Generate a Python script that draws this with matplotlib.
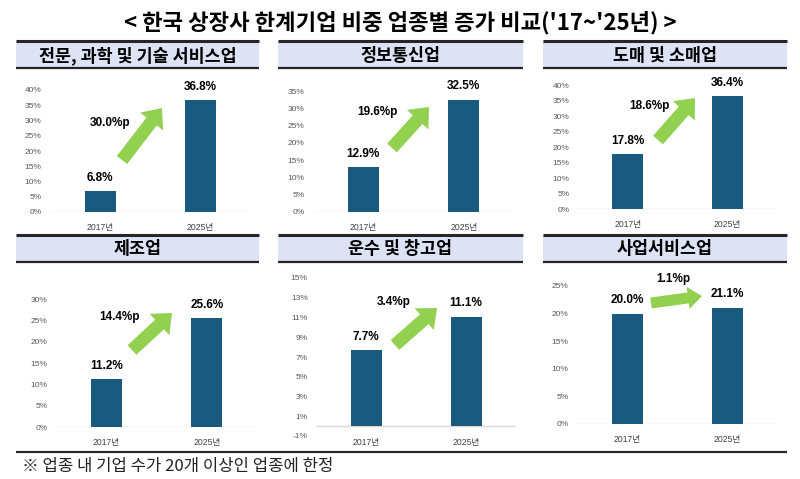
import matplotlib
matplotlib.use("Agg")
import matplotlib.pyplot as plt
from matplotlib.patches import Rectangle, FancyArrow
import numpy as np

plt.rcParams['font.family'] = ['Liberation Sans', 'Noto Sans CJK KR', 'DejaVu Sans']

# data
title = "< 한국 상장사 한계기업 비중 업종별 증가 비교('17~'25년) >"
panels = ["전문, 과학 및 기술 서비스업", "정보통신업", "도매 및 소매업",
          "제조업", "운수 및 창고업", "사업서비스업"]
years = ["2017년", "2025년"]
share_2017 = [6.8, 12.9, 17.8, 11.2, 7.7, 20.0]
share_2025 = [36.8, 32.5, 36.4, 25.6, 11.1, 21.1]
y_min = [0, 0, 0, 0, -1, 0]
y_max = [40, 35, 40, 30, 15, 25]
y_step = [5, 5, 5, 5, 2, 5]
footnote = "※ 업종 내 기업 수가 20개 이상인 업종에 한정"

# layout (pixels)
W, H = 800, 479
ax_boxes = [(50, 90, 250, 212), (313, 91, 514, 212), (578, 85, 777, 209),
            (56, 299, 257, 427), (316, 278, 516, 436), (577, 286, 777, 424)]
head_x = [(16, 259), (278, 523), (543, 787)]
head_y = [(41, 68), (235, 262)]
arrows = [((122, 160), (162, 108)), ((392, 148), (429, 107)), ((658, 140), (695, 98)),
          ((132, 350), (172, 313)), ((395, 345), (437, 308)), ((651, 303), (702, 296))]
arrow_sz = [(13, 29, 17)] * 5 + [(11, 22, 14)]
arrow_lbl = [(110, 123), (377, 112), (649, 106), (119, 317), (394, 302), (673, 279)]

bar_color = "#195a7e"
green = "#92d050"
head_fill = "#dde3f5"
kr = ['Noto Sans CJK KR', 'DejaVu Sans']

fig = plt.figure(figsize=(W / 100, H / 100), dpi=100)

ov = fig.add_axes([0, 0, 1, 1])
ov.set_xlim(0, W)
ov.set_ylim(H, 0)
ov.axis('off')

ov.text(W / 2, 23, title, ha='center', va='center', fontsize=16,
        fontweight='bold', family=kr)

# header boxes
for r, (yt, yb) in enumerate(head_y):
    for c, (xl, xr) in enumerate(head_x):
        ov.add_patch(Rectangle((xl, yt), xr - xl, yb - yt, facecolor=head_fill,
                               edgecolor='none', zorder=1))
        ov.plot([xl, xr], [yt, yt], color='#262626', lw=2.2, solid_capstyle='butt', zorder=2)
        ov.plot([xl, xr], [yb, yb], color='#262626', lw=1.6, solid_capstyle='butt', zorder=2)
        ov.text((xl + xr) / 2, (yt + yb) / 2 + 1, panels[r * 3 + c], ha='center', va='center',
                fontsize=12.5, fontweight='bold', family=kr, zorder=3)

ov.plot([16, 787], [452, 452], color='#262626', lw=1.6, solid_capstyle='butt')
ov.text(22, 466, footnote, ha='left', va='center', fontsize=12,
        family=kr, color='#222222')

x = np.arange(2)
for i in range(6):
    l, t, r, b = ax_boxes[i]
    ax = fig.add_axes([l / W, 1 - b / H, (r - l) / W, (b - t) / H])
    ax.set_facecolor('none')
    vals = [share_2017[i], share_2025[i]]
    ax.bar(x, vals, width=0.31, color=bar_color, zorder=3)
    ax.set_xlim(-0.5, 1.5)
    ax.set_ylim(y_min[i], y_max[i])
    ticks = np.arange(y_min[i], y_max[i] + 0.1, y_step[i])
    ax.set_yticks(ticks)
    ax.set_yticklabels([f"{v:g}%" for v in ticks])
    ax.tick_params(axis='y', length=0, pad=6, labelsize=6, labelcolor='#595959')
    ax.set_xticks([])
    for s in ax.spines.values():
        s.set_visible(False)
    ax.axhline(0, color='#d9d9d9', lw=1, zorder=2)
    for xi, v in zip(x, vals):
        ax.annotate(f"{v:.1f}%", (xi, v), xytext=(0, 9.5), textcoords='offset points',
                    ha='center', va='center', fontsize=8.5, fontweight='bold')
        ax.annotate(years[xi], (xi, 0), xytext=(0, -11.5), textcoords='offset points',
                    ha='center', va='center', fontsize=6.2, color='#404040')
    (x0, y0), (x1, y1) = arrows[i]
    w, hw, hl = arrow_sz[i]
    ov.add_patch(FancyArrow(x0, y0, x1 - x0, y1 - y0, width=w, head_width=hw,
                            head_length=hl, length_includes_head=True,
                            facecolor=green, edgecolor='none', zorder=4))
    d = share_2025[i] - share_2017[i]
    ov.text(arrow_lbl[i][0], arrow_lbl[i][1], f"{d:.1f}%p", ha='center', va='center',
            fontsize=8.5, fontweight='bold', zorder=5)

fig.savefig("out.png", dpi=100)
